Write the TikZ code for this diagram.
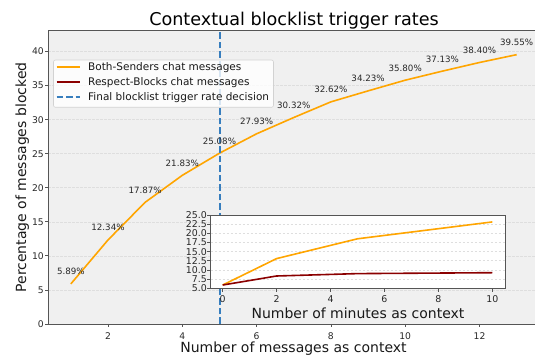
\documentclass[tikz,border=0pt]{standalone}
\usepackage{fontspec}
\setmainfont{DejaVu Sans}
\definecolor{axbg}{RGB}{240,240,240}
\definecolor{framec}{RGB}{85,85,85}
\definecolor{gridc}{RGB}{222,222,222}
\definecolor{orangeC}{RGB}{255,165,0}
\definecolor{redC}{RGB}{139,0,0}
\definecolor{blueC}{RGB}{55,126,190}
\definecolor{txtc}{RGB}{40,40,40}
\definecolor{legc}{RGB}{210,210,210}
\tikzset{
  framel/.style={draw=framec, line width=0.9pt},
  tickl/.style={draw=framec, line width=0.8pt},
  gridline/.style={draw=gridc, line width=0.6pt, dash pattern=on 2.6pt off 1.4pt},
  orangeline/.style={draw=orangeC, line width=1.6pt, line join=round},
  redline/.style={draw=redC, line width=1.6pt, line join=round},
  decision/.style={draw=blueC, line width=1.9pt, dash pattern=on 6.5pt off 3pt},
  ticklab/.style={inner sep=0pt, text=txtc, font=\fontsize{9.2}{10}\selectfont},
  insetlab/.style={inner sep=0pt, text=txtc, font=\fontsize{9.4}{10}\selectfont},
  pct/.style={inner sep=0pt, anchor=base, text=txtc, font=\fontsize{8.7}{10}\selectfont},
  axlab/.style={inner sep=0pt, anchor=base, text=black!90, font=\fontsize{14}{16}\selectfont},
  titlelab/.style={inner sep=0pt, anchor=base, text=black, font=\fontsize{17.6}{20}\selectfont},
  legtext/.style={inner sep=0pt, anchor=west, text=black!90, font=\fontsize{10.5}{12}\selectfont},
}
\begin{document}
\begin{tikzpicture}[x=1pt,y=1pt]
\useasboundingbox (0,0) rectangle (535,358);
\clip (0,0) rectangle (535,358);
% ---------------- main axes ----------------
\begin{scope}[shift={(33.7pt,34pt)}, x=37.15pt, y=6.81pt]
  \fill[axbg] (0.385,0) rectangle (13.6,43.05);
  \foreach \v in {5,10,...,40}
    \draw[gridline] (0.385,\v) -- (13.6,\v);
  \draw[orangeline] plot coordinates {(1,5.89) (2,12.34) (3,17.87) (4,21.83) (5,25.08) (6,27.93) (7,30.32) (8,32.62) (9,34.23) (10,35.80) (11,37.13) (12,38.40) (13,39.55)};
\end{scope}
\coordinate (dbot) at (219.6,34);
\coordinate (dtop) at (219.6,327.2);
\draw[decision] (dbot) -- (dtop);
\begin{scope}[shift={(33.7pt,34pt)}, x=37.15pt, y=6.81pt]
  \foreach \x/\v/\t in {1/5.89/5.89, 2/12.34/12.34, 3/17.87/17.87, 4/21.83/21.83, 5/25.08/25.08, 6/27.93/27.93, 7/30.32/30.32, 8/32.62/32.62, 9/34.23/34.23, 10/35.80/35.80, 11/37.13/37.13, 12/38.40/38.40, 13/39.55/39.55}
    \node[pct, yshift=9pt] (p\x) at (\x,\v) {\t\%};
  \draw[framel] (13.6,43.05) -- (0.385,43.05) -- (0.385,0) -- (13.6,0);
  \foreach \v in {0,5,...,40} {
    \draw[tickl] (0.385,\v) -- ++(-3.5pt,0);
    \node[ticklab, anchor=east, xshift=-4pt] (yt\v) at (0.385,\v) {\v};
  }
  \foreach \x in {2,4,...,12} {
    \draw[tickl] (\x,0) -- ++(0,-3.5pt);
    \node[ticklab, anchor=north, yshift=-8.2pt] (xt\x) at (\x,0) {\x};
  }
\end{scope}
% ---------------- legend ----------------
\draw[draw=legc, fill=white, fill opacity=0.8, rounded corners=2pt, line width=0.6pt] (53.5,298) rectangle (273.5,250.7);
\coordinate (l1a) at (56.7,290.7); \coordinate (l1b) at (80,290.7);
\coordinate (l2a) at (56.7,275.7); \coordinate (l2b) at (80,275.7);
\coordinate (l3a) at (56.7,260.7); \coordinate (l3b) at (80,260.7);
\draw[orangeline] (l1a) -- (l1b);
\draw[redline] (l2a) -- (l2b);
\draw[decision] (l3a) -- (l3b);
\node[legtext] (t1) at (88,290.7) {Both-Senders chat messages};
\node[legtext] (t2) at (88,275.7) {Respect-Blocks chat messages};
\node[legtext] (t3) at (88,260.7) {Final blocklist trigger rate decision};
% ---------------- inset axes ----------------
\begin{scope}[shift={(222.7pt,51.4pt)}, x=26.96pt, y=3.665pt]
  \fill[white] (-0.44,5) rectangle (10.47,25);
  \foreach \v in {7.5,10,...,22.5}
    \draw[gridline] (-0.44,\v) -- (10.47,\v);
  \draw[orangeline] plot coordinates {(0,5.89) (2,13.1) (5,18.5) (10,23.1)};
  \draw[redline] plot coordinates {(0,5.89) (2,8.35) (5,9.0) (10,9.25)};
  \draw[framel] (-0.44,5) rectangle (10.47,25);
  \foreach \v/\s [count=\i] in {5/5.0, 7.5/7.5, 10/10.0, 12.5/12.5, 15/15.0, 17.5/17.5, 20/20.0, 22.5/22.5, 25/25.0} {
    \draw[tickl] (-0.44,\v) -- ++(-3.5pt,0);
    \node[insetlab, anchor=east, xshift=-3.8pt] (iy\i) at (-0.44,\v) {\s};
  }
  \foreach \x in {0,2,...,10} {
    \draw[tickl] (\x,5) -- ++(0,-3.5pt);
    \node[insetlab, anchor=north, yshift=-7.2pt] (ix\x) at (\x,5) {\x};
  }
\end{scope}
% ---------------- labels ----------------
\node[axlab] (ixl) at (358,39) {Number of minutes as context};
\node[axlab] (xl) at (293.5,5) {Number of messages as context};
\node[axlab, rotate=90] (yl) at (26,180.5) {Percentage of messages blocked};
\node[titlelab] (title) at (294,332) {Contextual blocklist trigger rates};
\end{tikzpicture}
\end{document}
